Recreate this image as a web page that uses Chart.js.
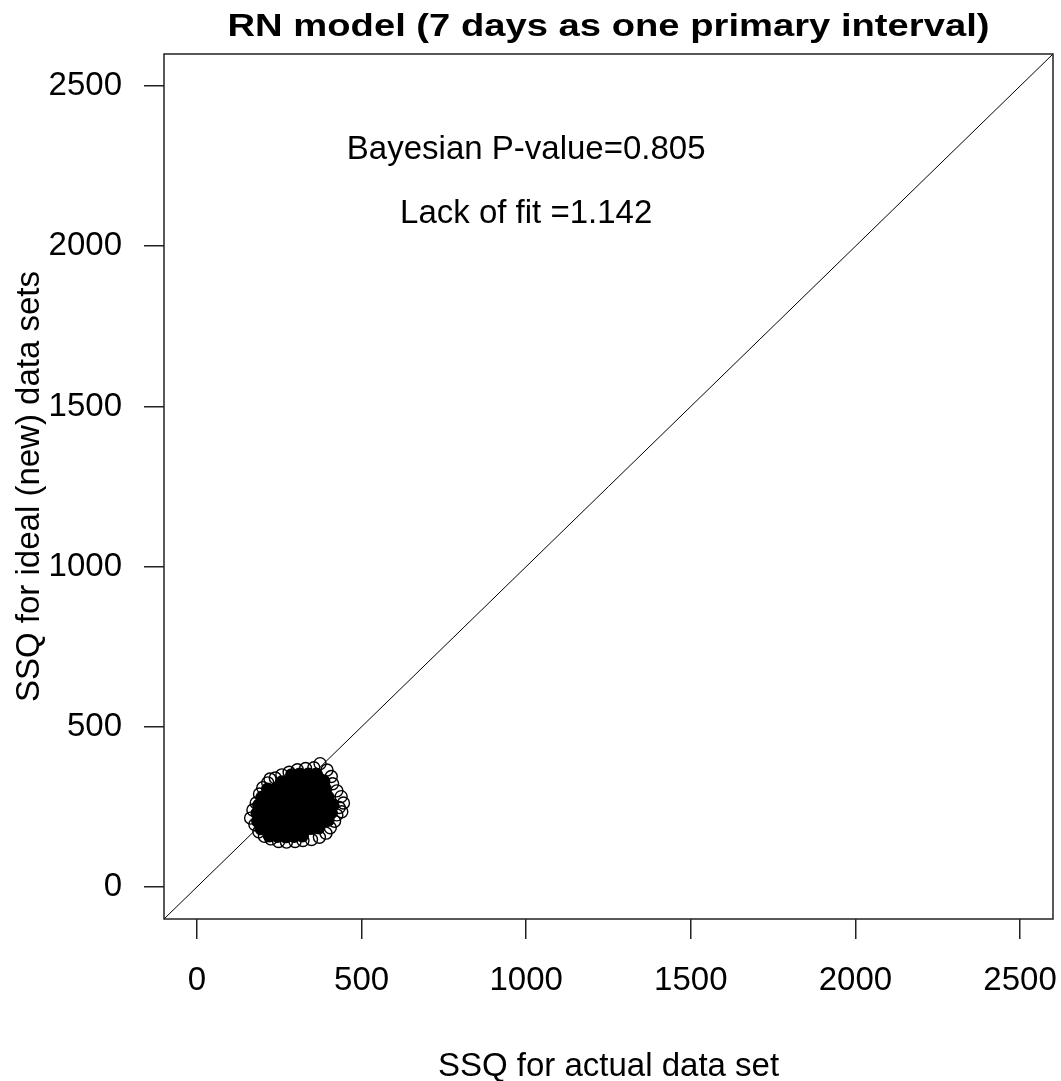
<!DOCTYPE html>
<html>
<head>
<meta charset="utf-8">
<script src="https://cdn.jsdelivr.net/npm/chart.js@4.4.1/dist/chart.umd.min.js"></script>
<style>
  html, body { margin: 0; padding: 0; background: #fff; }
  #wrap { width: 1061px; height: 1081px; }
</style>
</head>
<body>
<div id="wrap"><canvas id="ssqChart"></canvas></div>
<script>
"use strict";

// axis range and ticks (same for both axes)
const axisMin = -100;
const axisMax = 2600;
const tickValues = [0, 500, 1000, 1500, 2000, 2500];

// dense middle of the cloud (thousands of overlapping circles -> solid black)
const coreX = [
  220, 245, 270, 295, 320,
  195, 220, 245, 270, 295, 320, 345, 370,
  185, 210, 235, 260, 285, 310, 335, 360, 385, 398,
  183, 208, 233, 258, 283, 308, 333, 358, 383, 408,
  188, 213, 238, 263, 288, 313, 338, 363, 388, 413,
  198, 223, 248, 273, 298, 323, 348, 373, 398,
  215, 240, 265, 290, 315, 340, 365, 390,
  258, 280, 305, 330, 355, 385,
  288, 312, 338, 362,
];
const coreY = [
  160, 158, 157, 158, 160,
  182, 180, 180, 179, 180, 181, 183, 185,
  205, 205, 204, 205, 205, 206, 205, 206, 207, 208,
  230, 230, 230, 231, 230, 230, 231, 230, 231, 232,
  255, 255, 256, 255, 255, 256, 255, 256, 255, 256,
  280, 281, 280, 280, 281, 280, 281, 280, 280,
  305, 306, 305, 305, 306, 305, 305, 306,
  328, 330, 331, 330, 331, 330,
  350, 352, 352, 352,
];

// circles on the rim of the cloud that stay visible as open rings
const edgeX = [
  222, 374, 355, 330, 305, 280, 258, 395, 408, 412,
  425, 438, 445, 432, 440, 425, 418, 405, 392, 372,
  348, 322, 298, 272, 248, 225, 205, 188, 176, 163,
  170, 180, 190, 200, 215, 238,
];
const edgeY = [
  337, 385, 372, 370, 366, 358, 350, 365, 345, 322,
  300, 282, 262, 248, 235, 225, 205, 185, 168, 155,
  148, 145, 142, 140, 142, 150, 158, 172, 195, 215,
  240, 262, 290, 310, 325, 340,
];

// 1:1 reference line
const refX = [-100, 2600];
const refY = [-100, 2600];

const chartTitle = "RN model (7 days as one primary interval)";
const xTitle = "SSQ for actual data set";
const yTitle = "SSQ for ideal (new) data sets";
const noteText = ["Bayesian P-value=0.805", "Lack of fit =1.142"];
const noteX = [1000, 1000];
const noteY = [2300, 2100];

const FONT = '"Liberation Sans", Arial, sans-serif';
const INK = "#000";

const toPoints = (xs, ys) => xs.map((x, i) => ({ x, y: ys[i] }));

const rFrame = {
  id: "rFrame",
  afterDraw(chart) {
    const { ctx, chartArea: a, scales } = chart;
    ctx.save();
    // box round the plot region
    ctx.strokeStyle = "#222";
    ctx.lineWidth = 1.5;
    ctx.strokeRect(a.left, a.top, a.right - a.left, a.bottom - a.top);

    // main title, bold and a bit narrow like R's device font
    ctx.fillStyle = INK;
    ctx.font = "bold 32px " + FONT;
    ctx.textAlign = "center";
    ctx.textBaseline = "alphabetic";
    const w = ctx.measureText(chartTitle).width;
    const cx = (a.left + a.right) / 2;
    ctx.save();
    ctx.translate(cx, 36);
    ctx.scale(762 / w, 1);
    ctx.fillText(chartTitle, 0, 0);
    ctx.restore();

    // text() notes placed in data units
    ctx.font = "33px " + FONT;
    ctx.textBaseline = "middle";
    noteText.forEach((t, i) => {
      ctx.fillText(t, scales.x.getPixelForValue(noteX[i]), scales.y.getPixelForValue(noteY[i]));
    });
    ctx.restore();
  },
};

function axisOpts(title, titlePad, size) {
  return {
    type: "linear",
    min: axisMin,
    max: axisMax,
    afterBuildTicks: (s) => { s.ticks = tickValues.map((v) => ({ value: v })); },
    afterFit: (s) => {
      size(s);
      s.paddingLeft = 0;
      s.paddingRight = 0;
      s.paddingTop = 0;
      s.paddingBottom = 0;
    },
    grid: { drawOnChartArea: false, drawTicks: true, tickLength: 20, color: "#222", lineWidth: 1.5 },
    border: { display: false },
    ticks: {
      color: INK,
      font: { family: FONT, size: 33 },
      padding: 22,
      maxRotation: 0,
      autoSkip: false,
      callback: (v) => String(v),
    },
    title: {
      display: true,
      text: title,
      color: INK,
      font: { family: FONT, size: 33 },
      padding: titlePad,
    },
  };
}

new Chart(document.getElementById("ssqChart"), {
  type: "scatter",
  plugins: [rFrame],
  data: {
    datasets: [
      {
        label: "y = x",
        type: "line",
        data: toPoints(refX, refY),
        borderColor: INK,
        borderWidth: 1,
        pointRadius: 0,
        fill: false,
      },
      {
        label: "core",
        data: toPoints(coreX, coreY),
        pointStyle: "circle",
        pointRadius: 6,
        backgroundColor: INK,
        borderColor: INK,
        borderWidth: 1.4,
      },
      {
        label: "rim",
        data: toPoints(edgeX, edgeY),
        pointStyle: "circle",
        pointRadius: 6,
        backgroundColor: "rgba(0,0,0,0)",
        borderColor: INK,
        borderWidth: 1.4,
      },
    ],
  },
  options: {
    responsive: true,
    maintainAspectRatio: false,
    animation: false,
    layout: { padding: { top: 54, right: 8, left: 0, bottom: 0 } },
    plugins: {
      legend: { display: false },
      tooltip: { enabled: false },
      title: { display: false },
    },
    scales: {
      x: axisOpts(xTitle, { top: 0, bottom: -6 }, (s) => { s.height = 162; }),
      y: axisOpts(yTitle, { top: 10, bottom: 0 }, (s) => { s.width = 164; }),
    },
  },
});
</script>
</body>
</html>
